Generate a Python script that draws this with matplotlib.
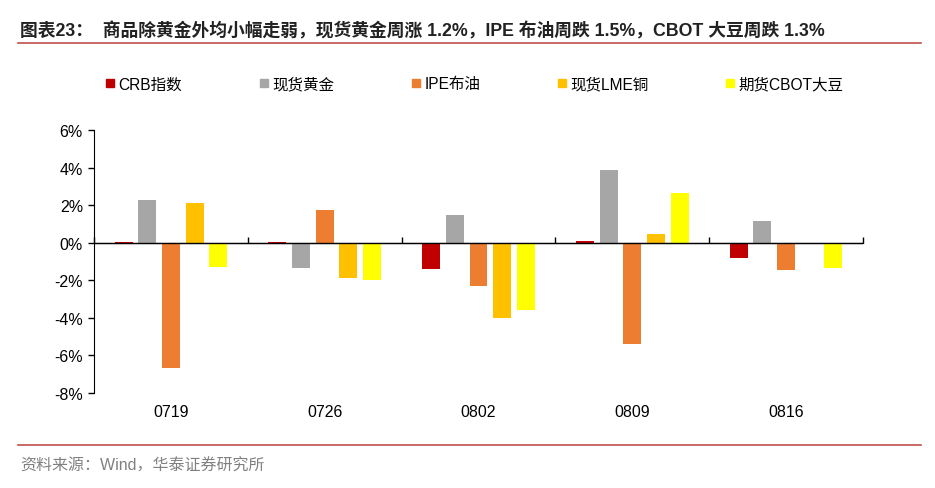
import matplotlib.pyplot as plt
import numpy as np
from matplotlib.lines import Line2D

plt.rcParams['font.family'] = ['Liberation Sans', 'Noto Sans CJK SC']

# weeks and weekly returns (%)
weeks = ['0719', '0726', '0802', '0809', '0816']
series_names = ['CRB指数', '现货黄金', 'IPE布油', '现货LME铜', '期货CBOT大豆']
crb = [0.05, 0.05, -1.42, 0.1, -0.8]
gold = [2.25, -1.33, 1.49, 3.87, 1.17]
brent = [-6.65, 1.75, -2.3, -5.4, -1.47]
lme_copper = [2.1, -1.9, -4.0, 0.48, -0.03]
cbot_soy = [-1.3, -2.0, -3.6, 2.65, -1.37]
colors = ['#C00000', '#A6A6A6', '#ED7D31', '#FFC000', '#FFFF00']

fig = plt.figure(figsize=(9.35, 4.89), dpi=100)
ax = fig.add_axes([94/935, 1 - 394/489, (863-94)/935, (394-131)/489])

x = np.arange(len(weeks))
slot = 0.154
width = 0.117
all_series = [crb, gold, brent, lme_copper, cbot_soy]
handles = []
for i, (vals, c, name) in enumerate(zip(all_series, colors, series_names)):
    ax.bar(x + (i - 2) * slot, vals, width=width, color=c, label=name, zorder=2)
    handles.append(Line2D([], [], marker='s', linestyle='None', markersize=6,
                          markerfacecolor=c, markeredgecolor=c))

ax.set_xlim(-0.5, 4.5)
ax.set_ylim(-8, 6)
ax.set_yticks(range(-8, 7, 2))
ax.set_yticklabels([f'{v}%' for v in range(-8, 7, 2)], fontsize=11.5)
ax.set_xticks(x)
ax.set_xticklabels(weeks, fontsize=11.5)
ax.tick_params(axis='x', length=0, pad=8)
ax.tick_params(axis='y', length=4, width=1, direction='out', pad=4)
for s in ['top', 'right', 'bottom']:
    ax.spines[s].set_visible(False)
ax.spines['left'].set_color('black')

# zero line with boundary ticks
ax.axhline(0, color='black', lw=1, zorder=3)
sec = ax.secondary_xaxis(8/14)
sec.set_xticks(np.arange(-0.5, 4.6, 1))
sec.set_xticklabels([])
sec.tick_params(length=4, width=1, direction='out')
sec.spines['bottom'].set_visible(False)

fig.legend(handles, series_names, loc='center left', bbox_to_anchor=(105/935, 1 - 85/489),
           ncol=5, frameon=False, fontsize=11.2, handlelength=0.6, handletextpad=0.25,
           columnspacing=4.95, borderpad=0, borderaxespad=0)

# title and decorations
fig.text(20/935, 1 - 31/489,
         '图表23：  商品除黄金外均小幅走弱，现货黄金周涨 1.2%，IPE 布油周跌 1.5%，CBOT 大豆周跌 1.3%',
         fontsize=12.8, fontweight='bold', color='#222222', va='center', ha='left')
fig.add_artist(Line2D([18/935, 921/935], [1 - 44/489, 1 - 44/489], color='#C0504D', lw=1.2))
fig.add_artist(Line2D([18/935, 921/935], [1 - 446/489, 1 - 446/489], color='#C0504D', lw=1.2))
fig.text(20/935, 1 - 466/489, '资料来源：Wind，华泰证券研究所', fontsize=11.5, color='#808080',
         va='center', ha='left')

fig.savefig('out.png', dpi=100)
